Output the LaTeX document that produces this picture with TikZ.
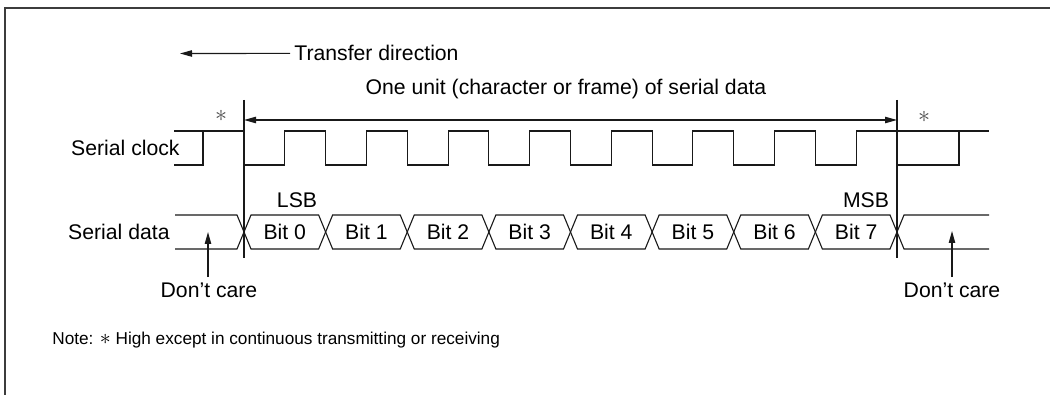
\documentclass[tikz,border=0pt]{standalone}
\usepackage{fontspec}
\setmainfont{Liberation Sans}
\usetikzlibrary{arrows.meta,positioning}
\definecolor{sigblack}{RGB}{25,25,25}
\definecolor{framegrey}{RGB}{60,60,60}

\begin{document}
\begin{tikzpicture}[x=0.5pt, y=-0.5pt,
    sig/.style={line width=0.55pt, draw=sigblack},
    arr/.style={-{Triangle[length=6pt, width=3.2pt]}, line width=0.55pt, sigblack},
    lbl/.style={inner sep=0pt, anchor=base, font=\fontsize{10.6}{12.7}\selectfont},
    star/.style={inner sep=0pt, text=black!70, font=\fontsize{13}{15}\selectfont}
]
    \useasboundingbox (0,0) rectangle (1050,395);
    \draw[framegrey, line width=1pt] (1050,8.5) -- (5,8.5) -- (5,395);

    % transfer direction
    \node[lbl, anchor=base west, inner xsep=2pt] (xfer) at (290,61) {Transfer direction};
    \coordinate (xtip) at (180,53.5);
    \draw[arr] (xfer.west) -- (xtip);

    % one unit of serial data
    \coordinate (ustart) at (244,100);
    \coordinate (uend) at (897,100);
    \draw[sig] (ustart) -- ++(0,158);
    \draw[sig] (uend) -- ++(0,158);
    \draw[arr, {Triangle[length=6pt, width=3.2pt]}-{Triangle[length=6pt, width=3.2pt]}]
        ([yshift=-10]ustart) -- ([yshift=-10]uend);
    \node[lbl] (unit) at (566,95) {One unit (character or frame) of serial data};

    % serial clock
    \node[lbl, anchor=base east] (clk) at (180,156) {Serial clock};
    \node[star] (starl) at (221,116) {$\ast$};
    \node[star] (starr) at (924,117) {$\ast$};
    \draw[sig] (174,165) -- (203,165) -- (203,131);
    \draw[sig] (174,131) -- (244,131) -- (244,165)
        \foreach \i in {0,...,6} { -- ++(40.8125,0) -- ++(0,-34) -- ++(40.8125,0) -- ++(0,34) }
        -- ++(40.8125,0) -- ++(0,-34) -- (989,131);
    \draw[sig] (897,165) -- (959,165) -- (959,131);

    % serial data
    \node[lbl, anchor=base east] (dat) at (170,240) {Serial data};
    \draw[sig] (175,215) -- (237,215) -- (244,232) -- (237,249) -- (175,249);
    \foreach \k in {0,...,7} {
        \pgfmathsetmacro{\xa}{244+\k*81.625}
        \pgfmathsetmacro{\xb}{\xa+81.625}
        \draw[sig] (\xa,232) -- ({\xa+7},215) -- ({\xb-7},215) -- (\xb,232)
            -- ({\xb-7},249) -- ({\xa+7},249) -- cycle;
        \node[lbl] (bit\k) at ({(\xa+\xb)/2},240) {Bit \k};
    }
    \draw[sig] (989,215) -- (904,215) -- (897,232) -- (904,249) -- (989,249);
    \node[lbl] (lsb) at (297,208) {LSB};
    \node[lbl] (msb) at (866,208) {MSB};

    % don't care
    \node[lbl, inner sep=3pt] (dcl) at (209,298) {Don’t care};
    \node[lbl, inner sep=3pt] (dcr) at (952,298) {Don’t care};
    \coordinate (dcltip) at (208,232);
    \coordinate (dcrtip) at (952,231);
    \draw[arr] (dcl.north -| dcltip) -- (dcltip);
    \draw[arr] (dcr.north -| dcrtip) -- (dcrtip);

    % note
    \node[lbl, anchor=base west, font=\fontsize{8.6}{10}\selectfont] (note) at (52,344)
        {Note: {\fontsize{11}{12}\selectfont$\ast$} High except in continuous transmitting or receiving};
\end{tikzpicture}
\end{document}
